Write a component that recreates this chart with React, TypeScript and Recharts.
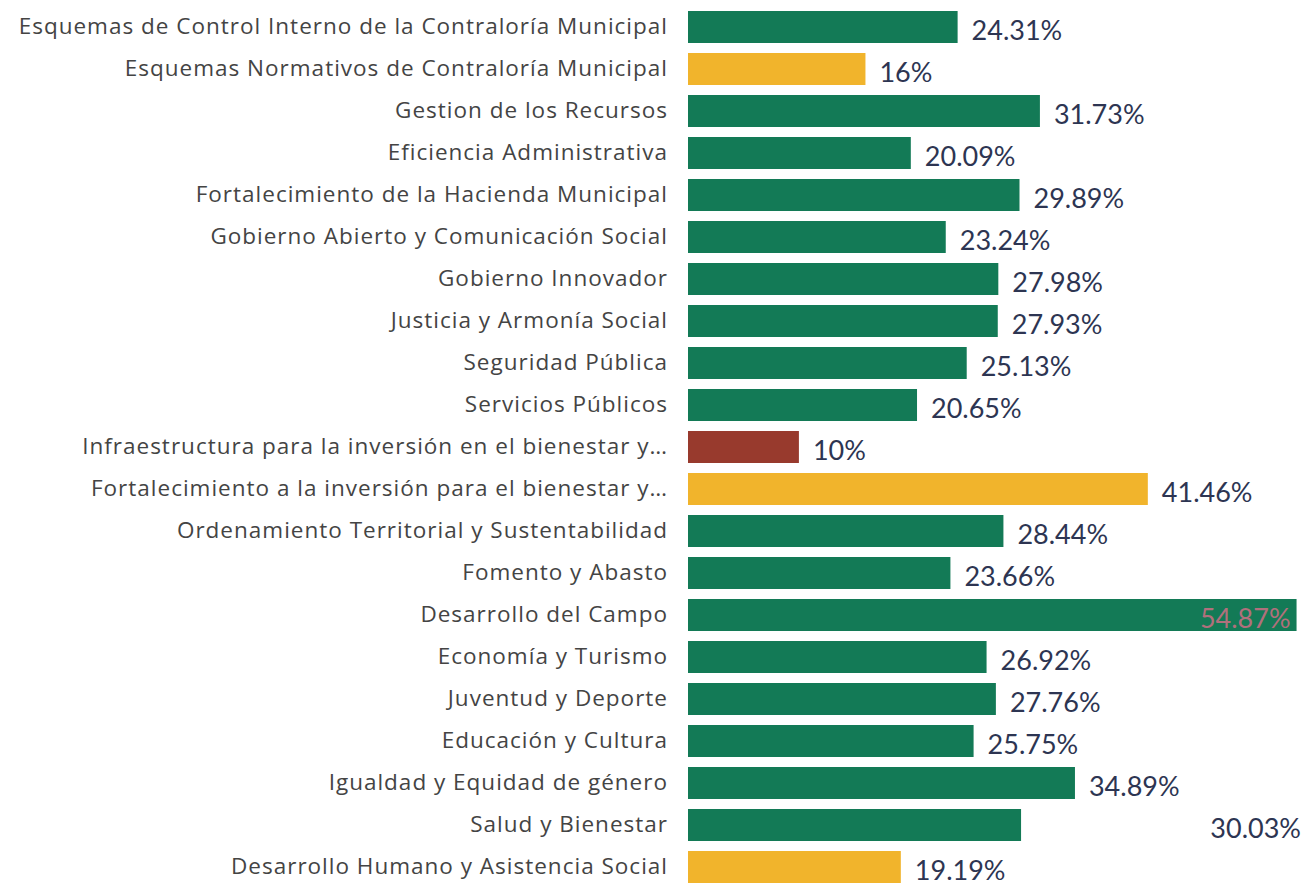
import { BarChart, Bar, XAxis, YAxis, Cell, LabelList } from 'recharts'

const categories = [
  'Esquemas de Control Interno de la Contraloría Municipal',
  'Esquemas Normativos de Contraloría Municipal',
  'Gestion de los Recursos',
  'Eficiencia Administrativa',
  'Fortalecimiento de la Hacienda Municipal',
  'Gobierno Abierto y Comunicación Social',
  'Gobierno Innovador',
  'Justicia y Armonía Social',
  'Seguridad Pública',
  'Servicios Públicos',
  'Infraestructura para la inversión en el bienestar y…',
  'Fortalecimiento a la inversión para el bienestar y…',
  'Ordenamiento Territorial y Sustentabilidad',
  'Fomento y Abasto',
  'Desarrollo del Campo',
  'Economía y Turismo',
  'Juventud y Deporte',
  'Educación y Cultura',
  'Igualdad y Equidad de género',
  'Salud y Bienestar',
  'Desarrollo Humano y Asistencia Social',
]

const values = [
  24.31, 16, 31.73, 20.09, 29.89, 23.24, 27.98, 27.93, 25.13, 20.65, 10, 41.46, 28.44, 23.66, 54.87, 26.92,
  27.76, 25.75, 34.89, 30.03, 19.19,
]

const status = [
  'verde', 'amarillo', 'verde', 'verde', 'verde', 'verde', 'verde', 'verde', 'verde', 'verde', 'rojo',
  'amarillo', 'verde', 'verde', 'verde', 'verde', 'verde', 'verde', 'verde', 'verde', 'amarillo',
]

// the scanned report pushes this one label out to the right edge
const farRightLabel = 'Salud y Bienestar'

const statusColor: Record<string, string> = {
  verde: '#137a56',
  amarillo: '#f1b42c',
  rojo: '#983a2d',
}

const W = 1303
const H = 888

const rows = categories.map((name, i) => ({ name, value: values[i], status: status[i] }))
const maxValue = Math.max(...values)

function fmt(v: number) {
  return `${v}%`
}

function CategoryTick({ x, y, payload }: any) {
  return (
    <text
      x={x - 12}
      y={y}
      dy={7}
      textAnchor="end"
      fontSize={22.5}
      letterSpacing={1}
      fill="#444"
      fontFamily="'Open Sans', sans-serif"
    >
      {payload.value}
    </text>
  )
}

function ValueLabel(props: any) {
  const { x, y, width, height, value, index } = props
  const cy = y + height / 2 + 4
  const font = "Lato, 'Open Sans', sans-serif"
  if (value === maxValue) {
    return (
      <text x={x + width - 6} y={cy} dy={9} textAnchor="end" fontSize={27} fill="#b0707c" fontFamily={font}>
        {fmt(value)}
      </text>
    )
  }
  if (categories[index] === farRightLabel) {
    return (
      <text x={W - 2} y={cy} dy={9} textAnchor="end" fontSize={27} fill="#2d3552" fontFamily={font}>
        {fmt(value)}
      </text>
    )
  }
  return (
    <text x={x + width + 14} y={cy} dy={9} textAnchor="start" fontSize={27} fill="#2d3552" fontFamily={font}>
      {fmt(value)}
    </text>
  )
}

export default function App() {
  return (
    <div style={{ position: 'absolute', left: 0, top: 0, width: W, height: H, background: '#fff' }}>
      <BarChart
        width={W}
        height={H}
        data={rows}
        layout="vertical"
        margin={{ top: 6, right: 5, bottom: 0, left: 0 }}
        barCategoryGap={5}
      >
        <XAxis type="number" domain={[0, 55]} hide />
        <YAxis
          type="category"
          dataKey="name"
          width={688}
          axisLine={false}
          tickLine={false}
          tick={<CategoryTick />}
          interval={0}
        />
        <Bar dataKey="value" isAnimationActive={false}>
          {rows.map((r) => (
            <Cell key={r.name} fill={statusColor[r.status]} />
          ))}
          <LabelList dataKey="value" content={<ValueLabel />} />
        </Bar>
      </BarChart>
    </div>
  )
}
